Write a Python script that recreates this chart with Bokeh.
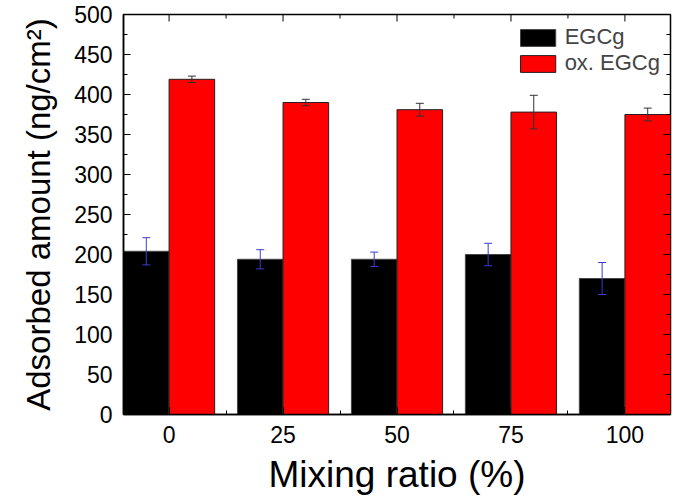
import math
from bokeh.plotting import figure
from bokeh.models import (ColumnDataSource, Whisker, TeeHead, FixedTicker,
                          Range1d, Legend, LegendItem)
from bokeh.embed import file_html
from bokeh.resources import INLINE

# ---- data ----
ratios = ["0", "25", "50", "75", "100"]
egcg = [204, 194, 194, 200, 170]
egcg_err = [17, 12, 9, 14, 20]
ox_egcg = [419, 390, 381, 378, 375]
ox_egcg_err = [4, 4, 8, 21, 8]

y_ticks = list(range(0, 501, 50))
y_minor = list(range(25, 500, 50))

FONT = "Liberation Sans"
bar_w = 0.4
idx = list(range(len(ratios)))
x_minor = [i + 0.5 for i in idx[:-1]]
x_e = [i - bar_w / 2 for i in idx]
x_o = [i + bar_w / 2 for i in idx]

src_e = ColumnDataSource(dict(x=x_e, top=egcg,
                              upper=[v + e for v, e in zip(egcg, egcg_err)],
                              lower=[v - e for v, e in zip(egcg, egcg_err)]))
src_o = ColumnDataSource(dict(x=x_o, top=ox_egcg,
                              upper=[v + e for v, e in zip(ox_egcg, ox_egcg_err)],
                              lower=[v - e for v, e in zip(ox_egcg, ox_egcg_err)]))

xr = Range1d(-0.4, 4.4)
yr = Range1d(0, 500)
p = figure(width=675, height=497, output_backend="svg", toolbar_location=None,
           x_range=xr, y_range=yr,
           min_border_left=123, min_border_right=5, min_border_top=14, min_border_bottom=81)
p.xgrid.visible = False
p.ygrid.visible = False
p.outline_line_color = "black"
p.outline_line_width = 1.5
p.background_fill_color = "white"
p.border_fill_color = "white"

r_e = p.vbar(x="x", top="top", width=bar_w, source=src_e, fill_color="black",
             line_color="#444444", line_width=1)
r_o = p.vbar(x="x", top="top", width=bar_w, source=src_o, fill_color="#ff0000",
             line_color="#222222", line_width=1)

for src, col in ((src_e, "#3c3cd2"), (src_o, "#333333")):
    p.add_layout(Whisker(base="x", upper="upper", lower="lower", source=src, level="overlay",
                         line_color=col, line_width=1,
                         upper_head=TeeHead(size=8, line_color=col, line_width=1),
                         lower_head=TeeHead(size=8, line_color=col, line_width=1)))

# inward ticks on the top and right frame edges (no labels there)
p.ray(x=idx, y=[yr.end] * len(idx), length=7, angle=-math.pi / 2, length_units="screen",
      line_color="black", line_width=1)
p.ray(x=x_minor, y=[yr.end] * len(x_minor), length=4, angle=-math.pi / 2, length_units="screen",
      line_color="black", line_width=1)
p.ray(x=[xr.end] * len(y_ticks), y=y_ticks, length=7, angle=math.pi, length_units="screen",
      line_color="black", line_width=1)
p.ray(x=[xr.end] * len(y_minor), y=y_minor, length=4, angle=math.pi, length_units="screen",
      line_color="black", line_width=1)


def style(ax):
    ax.axis_line_color = "black"
    ax.axis_line_width = 1.5
    ax.major_tick_in = 7
    ax.major_tick_out = 0
    ax.minor_tick_in = 4
    ax.minor_tick_out = 0
    ax.major_tick_line_color = "black"
    ax.minor_tick_line_color = "black"
    ax.major_label_text_font = FONT
    ax.major_label_text_color = "black"
    ax.axis_label_text_font = FONT
    ax.axis_label_text_font_style = "normal"
    ax.axis_label_text_color = "black"


xa = p.xaxis[0]
xa.ticker = FixedTicker(ticks=idx, minor_ticks=x_minor)
xa.major_label_overrides = {i: r for i, r in zip(idx, ratios)}
style(xa)
xa.major_label_text_font_size = "23px"
xa.major_label_standoff = 11
xa.axis_label = "Mixing ratio (%)"
xa.axis_label_text_font_size = "37px"
xa.axis_label_standoff = 8

ya = p.yaxis[0]
ya.ticker = FixedTicker(ticks=y_ticks, minor_ticks=y_minor)
style(ya)
ya.major_label_text_font_size = "23px"
ya.major_label_standoff = 11
ya.axis_label = "Adsorbed amount (ng/cm²)"
ya.axis_label_text_font_size = "33px"
ya.axis_label_standoff = 14

legend = Legend(items=[LegendItem(label="EGCg", renderers=[r_e]),
                       LegendItem(label="ox. EGCg", renderers=[r_o])],
                location="top_right", glyph_width=44, glyph_height=21,
                label_height=21, label_standoff=5, spacing=0, padding=0, margin=10,
                label_text_font=FONT, label_text_font_size="22px",
                border_line_alpha=0, background_fill_alpha=0)
p.add_layout(legend)

open("out.html", "w").write(file_html(p, INLINE))
